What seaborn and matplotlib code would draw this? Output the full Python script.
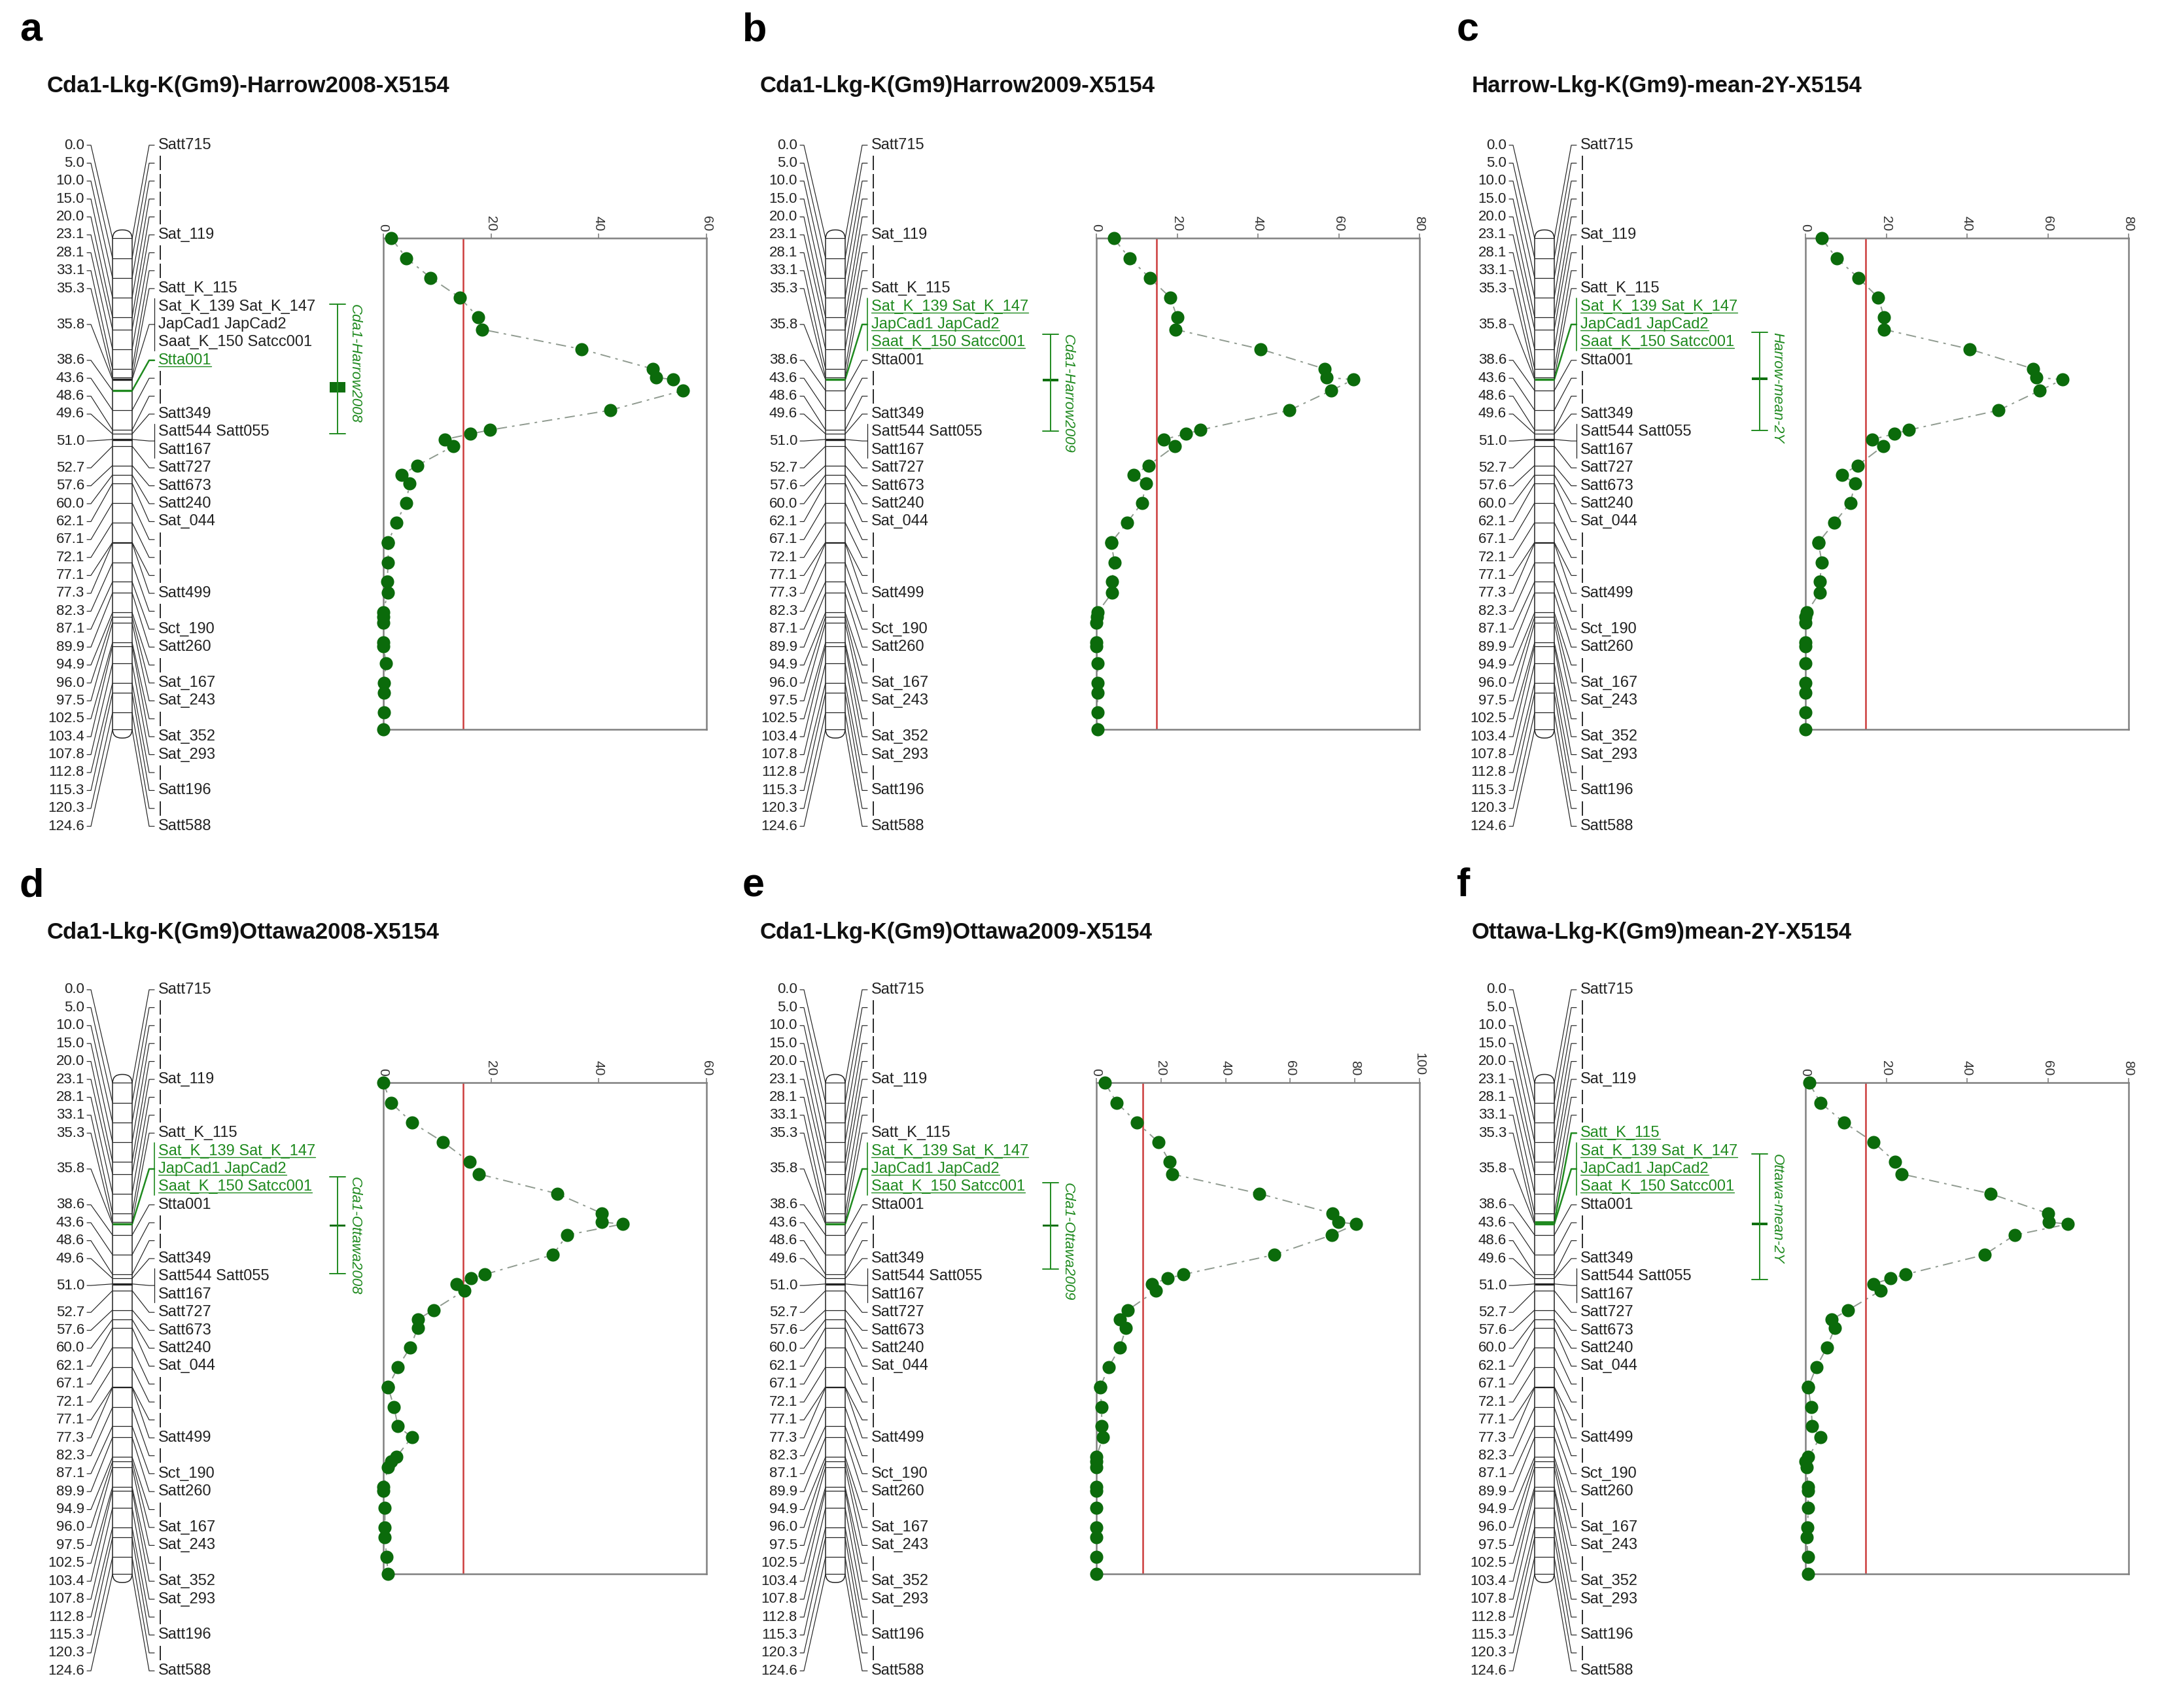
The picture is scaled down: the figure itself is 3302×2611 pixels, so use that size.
import matplotlib
matplotlib.use("Agg")
import matplotlib.pyplot as plt
from matplotlib.patches import FancyBboxPatch, Rectangle
import pandas as pd
import seaborn as sns

sns.set_theme(style="white")
plt.rcParams["font.family"] = ["Liberation Sans", "DejaVu Sans"]

# linkage map: positions (cM) and the marker names printed at each one
positions = [0.0, 5.0, 10.0, 15.0, 20.0, 23.1, 28.1, 33.1, 35.3, 35.8, 38.6, 43.6,
             48.6, 49.6, 51.0, 52.7, 57.6, 60.0, 62.1, 67.1, 72.1, 77.1, 77.3, 82.3,
             87.1, 89.9, 94.9, 96.0, 97.5, 102.5, 103.4, 107.8, 112.8, 115.3, 120.3, 124.6]
markers = [["Satt715"], ["|"], ["|"], ["|"], ["|"], ["Sat_119"], ["|"], ["|"], ["Satt_K_115"],
           ["Sat_K_139 Sat_K_147", "JapCad1 JapCad2", "Saat_K_150 Satcc001"],
           ["Stta001"], ["|"], ["|"], ["Satt349"], ["Satt544 Satt055", "Satt167"],
           ["Satt727"], ["Satt673"], ["Satt240"], ["Sat_044"], ["|"], ["|"], ["|"],
           ["Satt499"], ["|"], ["Sct_190"], ["Satt260"], ["|"], ["Sat_167"], ["Sat_243"],
           ["|"], ["Sat_352"], ["Sat_293"], ["|"], ["Satt196"], ["|"], ["Satt588"]]

# LOD profiles, one value per map position
lod_a = [1.5, 4.3, 8.8, 14.2, 17.6, 18.4, 36.8, 50.0, 50.7, 53.8, 55.6, 42.1,
         19.8, 16.2, 11.4, 13.0, 6.3, 3.4, 4.9, 4.2, 2.4, 0.9, 0.9, 0.9,
         0.7, 0.8, 0.0, 0.0, 0.0, 0.0, 0.0, 0.5, 0.1, 0.1, 0.1, 0.0]
lod_b = [4.3, 8.2, 13.2, 18.3, 20.0, 19.6, 40.7, 56.5, 57.0, 63.7, 58.1, 47.8,
         25.8, 22.2, 16.6, 19.4, 12.9, 9.3, 12.3, 11.3, 7.6, 3.7, 3.7, 4.5,
         3.9, 3.9, 0.3, 0.1, 0.0, 0.0, 0.0, 0.3, 0.3, 0.3, 0.3, 0.3]
lod_c = [4.0, 7.7, 13.1, 18.0, 19.5, 19.5, 40.7, 56.4, 57.2, 63.7, 58.0, 47.8,
         25.6, 22.0, 16.5, 19.2, 12.9, 9.0, 12.3, 11.1, 7.2, 3.2, 3.2, 4.1,
         3.5, 3.5, 0.3, 0.0, 0.0, 0.0, 0.0, 0.0, 0.0, 0.0, 0.0, 0.0]
lod_d = [0.0, 1.4, 5.3, 11.1, 16.0, 17.7, 32.3, 40.6, 40.6, 44.4, 34.1, 31.5,
         18.8, 16.3, 13.6, 15.0, 9.3, 6.4, 6.4, 5.0, 2.7, 0.9, 0.9, 2.0,
         2.7, 5.3, 2.4, 1.5, 0.9, 0.0, 0.0, 0.3, 0.3, 0.3, 0.6, 0.9]
lod_e = [2.7, 6.3, 12.5, 19.2, 22.7, 23.4, 50.5, 73.0, 74.8, 80.4, 72.8, 55.0,
         26.9, 22.1, 17.2, 18.4, 9.8, 7.3, 9.2, 7.3, 3.8, 1.2, 1.2, 1.6,
         1.7, 2.0, 0.0, 0.0, 0.0, 0.0, 0.0, 0.0, 0.0, 0.0, 0.0, 0.0]
lod_f = [0.9, 3.7, 9.5, 16.8, 22.2, 23.8, 45.8, 60.0, 60.2, 65.0, 51.8, 44.3,
         24.7, 21.1, 16.8, 18.6, 10.6, 6.5, 7.3, 5.3, 2.7, 0.7, 0.7, 1.4,
         1.7, 3.7, 0.7, 0.0, 0.3, 0.6, 0.6, 0.7, 0.5, 0.3, 0.6, 0.6]

letters = ["a", "b", "c", "d", "e", "f"]
titles = ["Cda1-Lkg-K(Gm9)-Harrow2008-X5154", "Cda1-Lkg-K(Gm9)Harrow2009-X5154",
          "Harrow-Lkg-K(Gm9)-mean-2Y-X5154", "Cda1-Lkg-K(Gm9)Ottawa2008-X5154",
          "Cda1-Lkg-K(Gm9)Ottawa2009-X5154", "Ottawa-Lkg-K(Gm9)mean-2Y-X5154"]
qtl_names = ["Cda1-Harrow2008", "Cda1-Harrow2009", "Harrow-mean-2Y",
             "Cda1-Ottawa2008", "Cda1-Ottawa2009", "Ottawa-mean-2Y"]
lod_max = [60, 80, 80, 60, 100, 80]
thresholds = [14.8, 14.9, 14.9, 14.8, 14.3, 14.9]
qtl_lo = [16.7, 24.3, 23.8, 23.9, 25.3, 18.0]
qtl_hi = [49.6, 48.9, 48.7, 48.4, 47.2, 49.9]
peak_lo = [36.4, 35.6, 35.3, 35.9, 35.9, 35.5]
peak_hi = [39.1, 36.2, 35.9, 36.5, 36.5, 36.1]
highlight = [[38.6], [35.8], [35.8], [35.8], [35.8], [35.3, 35.8]]
lods = [lod_a, lod_b, lod_c, lod_d, lod_e, lod_f]

# layout (figure pixels)
W, H = 3302, 2611
COL_X = [0, 1090, 2174]
ROW0 = [222, 1513]
ROW = 27.4
TITLE_X = [72, 1162, 2250]
TITLE_Y = [131, 1425]
LETTER_X = [30, 1135, 2227]
LETTER_Y = [47, 1355]
NUM_R, CHR_L, CHR_R, LAB_X = 129, 172, 202, 242
QTL_X, QTL_LAB_X = 516, 532
LOD_L, LOD_R = 586, 1080
GREEN = "#1f8a1f"
DOT = "#0b6b0b"
INK = "#222222"

end_pos = positions[-1]


def ymap(p, r0):
    return r0 + (5.2 + p * 27.4 / end_pos) * ROW


# label rows (groups take several rows, the position label sits in the middle)
label_rows, first_rows = [], []
r = 0
for names in markers:
    first_rows.append(r)
    label_rows.append(r + (len(names) - 1) / 2)
    r += len(names)

fig = plt.figure(figsize=(W / 100, H / 100), dpi=100)
ax = fig.add_axes([0, 0, 1, 1])
ax.set_xlim(0, W)
ax.set_ylim(H, 0)
ax.axis("off")

underlined = []

for k in range(6):
    col, prow = k % 3, k // 3
    cx, r0 = COL_X[col], ROW0[prow]

    ax.text(LETTER_X[col], LETTER_Y[prow], letters[k], fontsize=44, fontweight="bold",
            ha="left", va="center", color="black")
    ax.text(TITLE_X[col], TITLE_Y[prow], titles[k], fontsize=25, fontweight="bold",
            ha="left", va="center", color="#111111")

    # chromosome
    y_top, y_bot = ymap(0, r0), ymap(end_pos, r0)
    ax.add_patch(FancyBboxPatch((cx + CHR_L, y_top - 13), CHR_R - CHR_L, y_bot - y_top + 26,
                                boxstyle="round,pad=0,rounding_size=14", fc="white",
                                ec=INK, lw=1.1, zorder=2))

    for p, names, lr, fr in zip(positions, markers, label_rows, first_rows):
        hl = p in highlight[k]
        c = GREEN if hl else INK
        yc = ymap(p, r0)
        yl = r0 + lr * ROW
        # position label and left connector
        ax.text(cx + NUM_R, yl, f"{p:.1f}", fontsize=16, ha="right", va="center", color=INK)
        ax.plot([cx + NUM_R + 4, cx + NUM_R + 10, cx + CHR_L], [yl, yl, yc],
                color=INK, lw=0.85, zorder=1)
        # marker line across the chromosome
        lw = 2.4 if (hl or len(names) > 1) else 0.9
        ax.plot([cx + CHR_L, cx + CHR_R], [yc, yc], color=c, lw=lw, zorder=3,
                solid_capstyle="butt")
        # right connector
        ax.plot([cx + CHR_R, cx + LAB_X - 14, cx + LAB_X - 6], [yc, yl, yl],
                color=c, lw=1.8 if hl else 0.85, zorder=1)
        if len(names) > 1:
            ax.plot([cx + LAB_X - 6] * 2,
                    [r0 + (fr - 0.45) * ROW, r0 + (fr + len(names) - 0.55) * ROW],
                    color=c, lw=1.2 if hl else 0.9)
        for j, nm in enumerate(names):
            t = ax.text(cx + LAB_X, r0 + (fr + j) * ROW, nm, fontsize=17, ha="left",
                        va="center", color=GREEN if hl else INK)
            if hl:
                underlined.append(t)

    # QTL interval
    q0, q1 = ymap(qtl_lo[k], r0), ymap(qtl_hi[k], r0)
    qx = cx + QTL_X
    ax.plot([qx, qx], [q0, q1], color=GREEN, lw=1.4)
    ax.plot([qx - 12, qx + 12], [q0, q0], color=GREEN, lw=1.4)
    ax.plot([qx - 12, qx + 12], [q1, q1], color=GREEN, lw=1.4)
    b0, b1 = ymap(peak_lo[k], r0), ymap(peak_hi[k], r0)
    ax.add_patch(Rectangle((qx - 12, b0), 24, max(b1 - b0, 3), fc="#0f6f0f", ec="none"))
    ax.text(cx + QTL_LAB_X, q0, qtl_names[k], rotation=270, fontsize=16,
            fontstyle="italic", ha="left", va="top", color=GREEN)

    # LOD profile
    lax = fig.add_axes([(cx + LOD_L) / W, 1 - y_bot / H, (LOD_R - LOD_L) / W,
                        (y_bot - y_top) / H])
    df = pd.DataFrame({"pos": positions, "lod": lods[k]})
    sns.lineplot(data=df, x="lod", y="pos", sort=False, estimator=None, ax=lax,
                 color="#8f9a8f", lw=1.4, linestyle=(0, (8, 4, 2, 4)))
    sns.scatterplot(data=df, x="lod", y="pos", ax=lax, color=DOT, s=210,
                    edgecolor=DOT, linewidth=0, clip_on=False, zorder=4)
    lax.axvline(thresholds[k], color="#cc3b3b", lw=1.8)
    lax.set_xlim(0, lod_max[k])
    lax.set_ylim(end_pos, 0)
    lax.set_xlabel("")
    lax.set_ylabel("")
    lax.set_yticks([])
    lax.set_xticks(list(range(0, lod_max[k] + 1, 20)))
    lax.xaxis.tick_top()
    lax.tick_params(axis="x", top=True, bottom=False, labeltop=True, labelbottom=False,
                    length=5, width=1.2, color="#808080", labelsize=15, pad=3,
                    labelcolor="#333333")
    for lab in lax.get_xticklabels():
        lab.set_rotation(270)
    for s in lax.spines.values():
        s.set_color("#808080")
        s.set_linewidth(1.8)

# underline the highlighted marker names
fig.canvas.draw()
renderer = fig.canvas.get_renderer()
inv = ax.transData.inverted()
for t in underlined:
    bb = t.get_window_extent(renderer)
    (x0, yb), (x1, _) = inv.transform([(bb.x0, bb.y0), (bb.x1, bb.y0)])
    ax.plot([x0, x1], [yb - 2, yb - 2], color=GREEN, lw=1.0)

fig.savefig("out.png", dpi=100)
